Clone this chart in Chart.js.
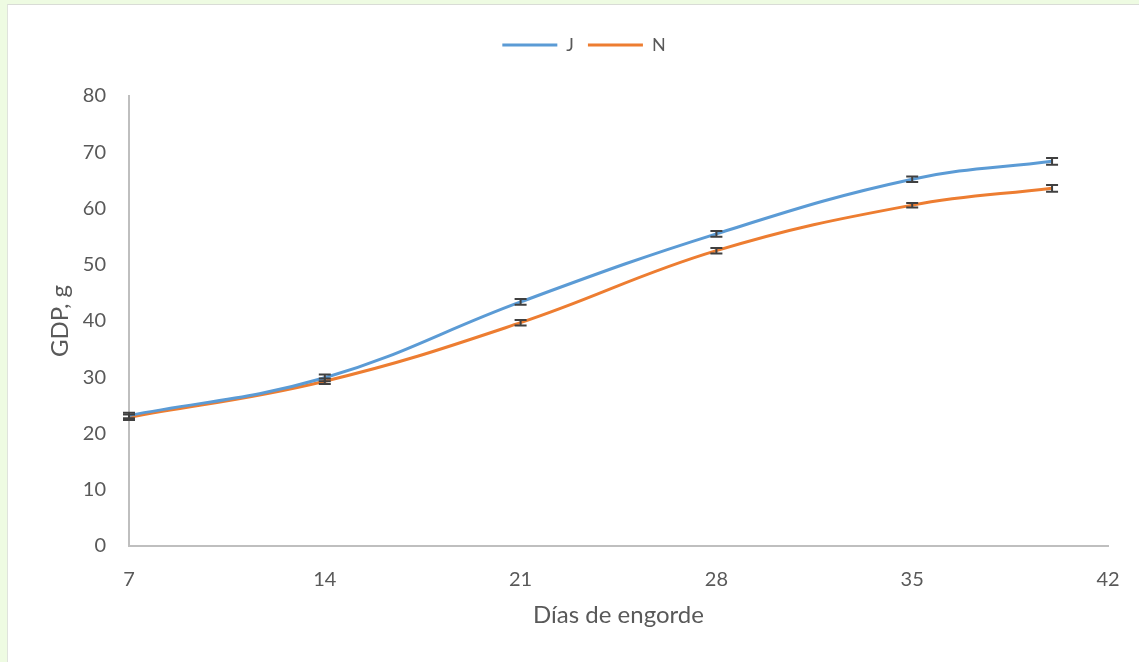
<!DOCTYPE html>
<html>
<head>
<meta charset="utf-8">
<script src="https://cdn.jsdelivr.net/npm/chart.js@4.4.1/dist/chart.umd.min.js"></script>
<style>
  html, body { margin: 0; padding: 0; }
  body { width: 1139px; height: 662px; background: #eefbe2; position: relative; overflow: hidden; }
  #panel {
    position: absolute; left: 7px; top: 4px; width: 1132px; height: 658px;
    background: #ffffff; border-top: 1px solid #d9dcd6; border-left: 1px solid #dfe3dc;
  }
  #wrap { position: absolute; left: 0; top: 0; width: 1131px; height: 657px; }
</style>
</head>
<body>
<div id="panel"><div id="wrap"><canvas id="myChart"></canvas></div></div>
<script>
const days = [7, 14, 21, 28, 35, 40];
const gdpJ = [23.2, 29.9, 43.4, 55.5, 65.2, 68.4];
const gdpN = [22.9, 29.3, 39.7, 52.5, 60.6, 63.6];
const errJ = [0.5, 0.6, 0.5, 0.5, 0.5, 0.6];
const errN = [0.5, 0.5, 0.5, 0.5, 0.4, 0.6];
const xTicks = [7, 14, 21, 28, 35, 42];

const fontFamily = 'Lato, "Open Sans", sans-serif';
const textColor = '#595959';

function toPoints(values) {
    return days.map((d, i) => ({ x: d, y: values[i] }));
}

// vertical error bars with flat caps, drawn over both lines
const errorBars = {
    id: 'errorBars',
    afterDatasetsDraw(chart) {
        const ctx = chart.ctx;
        const xScale = chart.scales.x;
        const yScale = chart.scales.y;
        ctx.save();
        ctx.strokeStyle = '#404040';
        ctx.lineWidth = 2;
        chart.data.datasets.forEach(ds => {
            ds.data.forEach((p, i) => {
                const x = xScale.getPixelForValue(p.x);
                const yTop = yScale.getPixelForValue(p.y + ds.errors[i]);
                const yBot = yScale.getPixelForValue(p.y - ds.errors[i]);
                ctx.beginPath();
                ctx.moveTo(x, yTop);
                ctx.lineTo(x, yBot);
                ctx.moveTo(x - 6, yTop);
                ctx.lineTo(x + 6, yTop);
                ctx.moveTo(x - 6, yBot);
                ctx.lineTo(x + 6, yBot);
                ctx.stroke();
            });
        });
        ctx.restore();
    }
};

// leave extra room under the legend and nudge it over the plot centre
const legendPlacement = {
    id: 'legendPlacement',
    beforeUpdate(chart) {
        const legend = chart.legend;
        if (legend && !legend._gapPatched) {
            const fit = legend.fit;
            legend.fit = function() {
                fit.call(this);
                this.height += 32;
            };
            legend._gapPatched = true;
        }
    },
    afterLayout(chart) {
        if (chart.legend) {
            chart.legend.left += 26;
            chart.legend.right += 26;
        }
    }
};

const ctx = document.getElementById('myChart').getContext('2d');
const myChart = new Chart(ctx, {
    type: 'line',
    data: {
        datasets: [
            {
                label: 'J',
                data: toPoints(gdpJ),
                errors: errJ,
                borderColor: '#5b9bd5',
                backgroundColor: '#5b9bd5',
                borderWidth: 3,
                pointRadius: 0,
                tension: 0.4,
                fill: false
            },
            {
                label: 'N',
                data: toPoints(gdpN),
                errors: errN,
                borderColor: '#ed7d31',
                backgroundColor: '#ed7d31',
                borderWidth: 3,
                pointRadius: 0,
                tension: 0.4,
                fill: false
            }
        ]
    },
    options: {
        responsive: true,
        maintainAspectRatio: false,
        animation: false,
        layout: {
            padding: { top: 17, right: 31, left: 0, bottom: 0 }
        },
        plugins: {
            legend: {
                position: 'top',
                labels: {
                    usePointStyle: true,
                    pointStyle: 'line',
                    pointStyleWidth: 55,
                    boxHeight: 18,
                    padding: 14,
                    color: textColor,
                    font: { family: fontFamily, size: 18 }
                }
            },
            tooltip: { enabled: false }
        },
        scales: {
            x: {
                type: 'linear',
                min: 7,
                max: 42,
                afterBuildTicks: scale => {
                    scale.ticks = xTicks.map(v => ({ value: v }));
                },
                afterFit: scale => { scale.height = 116; },
                grid: { display: false },
                border: { display: true, color: '#bfbfbf', width: 2 },
                ticks: {
                    padding: 14,
                    color: textColor,
                    font: { family: fontFamily, size: 20 }
                },
                title: {
                    display: true,
                    text: 'Días de engorde',
                    color: textColor,
                    padding: { top: 0, bottom: 32 },
                    font: { family: fontFamily, size: 24 }
                }
            },
            y: {
                min: 0,
                max: 80,
                afterFit: scale => { scale.width = 121; },
                grid: { display: false },
                border: { display: true, color: '#bfbfbf', width: 2 },
                ticks: {
                    stepSize: 10,
                    padding: 15,
                    color: textColor,
                    font: { family: fontFamily, size: 20 }
                },
                title: {
                    display: true,
                    text: 'GDP, g',
                    color: textColor,
                    padding: { top: 38, bottom: 0 },
                    font: { family: fontFamily, size: 24 }
                }
            }
        }
    },
    plugins: [errorBars, legendPlacement]
});
</script>
</body>
</html>
